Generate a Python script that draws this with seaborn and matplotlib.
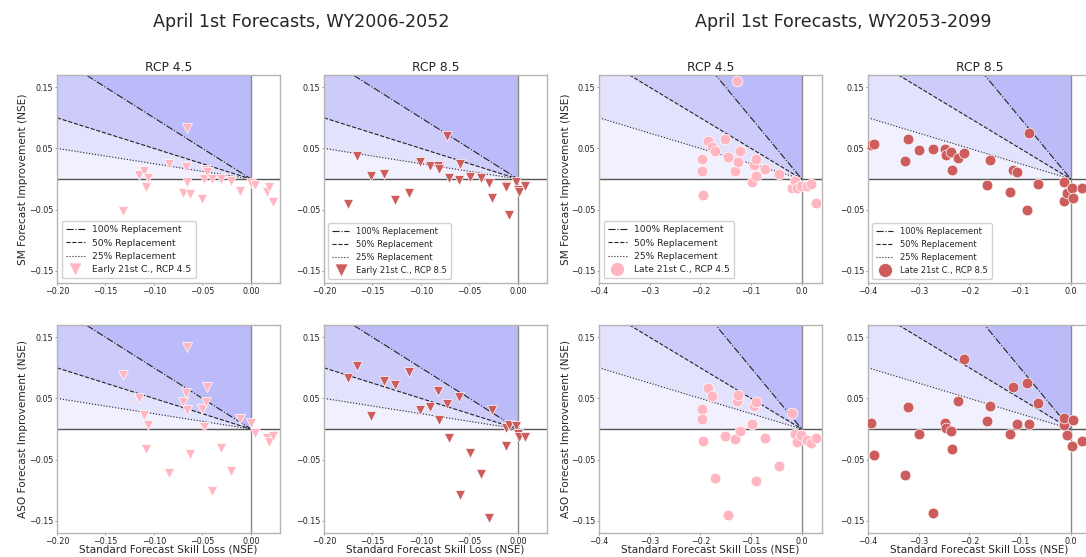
import numpy as np
import matplotlib
matplotlib.use("Agg")
import matplotlib.pyplot as plt
import seaborn as sns

sns.set_style("white")
plt.rcParams["font.family"] = ["DejaVu Sans"]

# ---- data: skill loss of the standard forecast (x) and improvements (y) ----
early45_loss = [-0.132, -0.1158, -0.1107, -0.1086, -0.1062, -0.085, -0.0701, -0.0667,
                -0.066, -0.0656, -0.063, -0.050, -0.0488, -0.0464, -0.0455, -0.0403,
                -0.0305, -0.021, -0.0113, 0.0, 0.004, 0.0165, 0.019, 0.023]
early45_sm = [-0.052, 0.006, 0.0131, -0.0126, 0.0016, 0.0241, -0.0224, 0.0203,
              -0.0055, 0.0832, -0.0246, -0.0334, -0.0005, 0.0148, 0.012, -0.0005,
              -0.0005, -0.0033, -0.0203, -0.006, -0.0104, -0.0208, -0.0137, -0.0383]
early45_aso = [0.0878, 0.0502, 0.0229, -0.0327, 0.0065, -0.0715, 0.0436, 0.0584,
               0.0311, 0.1337, -0.0409, 0.0322, 0.0038, 0.0447, 0.0687, -0.1015,
               -0.0316, -0.0682, 0.0164, 0.0104, -0.006, -0.0153, -0.0218, -0.0109]

early85_loss = [-0.1754, -0.1662, -0.1515, -0.1381, -0.1272, -0.1121, -0.1012, -0.0903,
                -0.0821, -0.0815, -0.0728, -0.0708, -0.0612, -0.0598, -0.0499, -0.0383,
                -0.0301, -0.0263, -0.0123, -0.0126, -0.0089, -0.0024, 0.0, 0.0014, 0.0068]
early85_sm = [-0.0409, 0.0371, 0.0055, 0.0076, -0.0338, -0.0229, 0.0273, 0.0207,
              0.0218, 0.0164, 0.0698, 0.0016, -0.0022, 0.0251, 0.0027, 0.0011,
              -0.0065, -0.0311, -0.012, -0.0135, -0.0584, -0.0049, -0.0175, -0.0205, -0.0109]
early85_aso = [0.0835, 0.1031, 0.0213, 0.0786, 0.0715, 0.0933, 0.0316, 0.036,
               0.0616, 0.0142, 0.0404, -0.0142, 0.0524, -0.1075, -0.0393, -0.0731,
               -0.1457, 0.0306, 0.0022, -0.0284, 0.0071, 0.0049, -0.0087, -0.0131, -0.0136]

late45_loss = [-0.197, -0.196, -0.195, -0.1843, -0.1777, -0.1708, -0.1515, -0.1449,
               -0.1311, -0.1285, -0.1266, -0.1226, -0.099, -0.0938, -0.0908, -0.0895,
               -0.0721, -0.0446, -0.0184, -0.0125, -0.0085, -0.002, 0.0111, 0.019, 0.0275]
late45_sm = [0.0328, 0.0131, -0.0263, 0.0624, 0.052, 0.0465, 0.0657, 0.0367,
             0.0137, 0.1599, 0.0285, 0.0465, -0.0049, 0.023, 0.0323, 0.0049,
             0.0159, 0.0077, -0.0153, -0.0027, -0.0142, -0.012, -0.0115, -0.0088, -0.04]
late45_aso = [0.0322, 0.0169, -0.0191, 0.0671, 0.0535, -0.0797, -0.012, -0.1413,
              -0.0164, 0.0453, 0.0562, -0.0033, 0.0087, 0.0371, 0.0442, -0.0857,
              -0.0147, -0.0606, 0.0262, -0.0076, -0.0218, -0.0104, -0.0175, -0.0224, -0.0142]

late85_loss = [-0.3934, -0.3878, -0.3268, -0.3208, -0.2992, -0.2719, -0.2483, -0.246,
               -0.2371, -0.2351, -0.2233, -0.2115, -0.1649, -0.1596, -0.1195, -0.1133,
               -0.1064, -0.0854, -0.0831, -0.0644, -0.0138, -0.0125, -0.0072, 0.0033,
               0.0046, 0.0217]
late85_sm = [0.0551, 0.0573, 0.0289, 0.0649, 0.0469, 0.0496, 0.0491, 0.0387,
             0.0442, 0.0153, 0.0344, 0.0431, -0.0104, 0.0316, -0.0213, 0.0153,
             0.0109, -0.0507, 0.0753, -0.0087, -0.0355, -0.0055, -0.0229, -0.0147,
             -0.0311, -0.0147]
late85_aso = [0.0093, -0.0431, -0.0747, 0.0355, -0.0087, -0.138, 0.0098, 0.0022,
              -0.0033, -0.0322, 0.0464, 0.114, 0.0125, 0.0376, -0.0076, 0.0682,
              0.0076, 0.0753, 0.0082, 0.0431, 0.006, 0.0185, -0.0098, -0.0278,
              0.0153, -0.0196]

period_titles = ["April 1st Forecasts, WY2006-2052", "April 1st Forecasts, WY2053-2099"]
scenario_titles = ["RCP 4.5", "RCP 8.5", "RCP 4.5", "RCP 8.5"]
series_labels = ["Early 21st C., RCP 4.5", "Early 21st C., RCP 8.5",
                 "Late 21st C., RCP 4.5", "Late 21st C., RCP 8.5"]
replacement_fracs = [1.0, 0.5, 0.25]
replacement_labels = ["100% Replacement", "50% Replacement", "25% Replacement"]
yticks = [0.15, 0.05, -0.05, -0.15]
xticks_early = [-0.20, -0.15, -0.10, -0.05, 0.00]
xticks_late = [-0.4, -0.3, -0.2, -0.1, 0.0]

columns = [
    dict(x=early45_loss, sm=early45_sm, aso=early45_aso, marker="v", color="#ffb6c1",
         s=52, xlim=(-0.20, 0.03), xticks=xticks_early, fmt="{:.2f}", legfs=6.6, ylab_x=-0.13),
    dict(x=early85_loss, sm=early85_sm, aso=early85_aso, marker="v", color="#cd5c5c",
         s=52, xlim=(-0.20, 0.03), xticks=xticks_early, fmt="{:.2f}", legfs=6.0, ylab_x=None),
    dict(x=late45_loss, sm=late45_sm, aso=late45_aso, marker="o", color="#ffb6c1",
         s=60, xlim=(-0.40, 0.04), xticks=xticks_late, fmt="{:.1f}", legfs=6.6, ylab_x=-0.125),
    dict(x=late85_loss, sm=late85_sm, aso=late85_aso, marker="o", color="#cd5c5c",
         s=60, xlim=(-0.40, 0.04), xticks=xticks_late, fmt="{:.1f}", legfs=6.0, ylab_x=None),
]

W, H = 1086, 557
fig = plt.figure(figsize=(W / 100, H / 100), dpi=100)

lefts = [57, 324, 599, 868]
tops = [75, 325]
aw, ah = 223, 208
ylim = (-0.17, 0.17)

zone_colors = ["#f0f0fe", "#e2e2fc", "#cccbfa", "#bbbbf9"]
line_styles = ["-.", "--", ":"]


def draw_panel(ax, col, yvals, row, ci):
    x0 = col["xlim"][0]
    xs = np.linspace(x0, 0, 400)
    top = ylim[1]
    bounds = [np.zeros_like(xs)] + [np.minimum(-f * xs, top) for f in (0.25, 0.5, 1.0)] + [np.full_like(xs, top)]
    for k in range(4):
        ax.fill_between(xs, bounds[k], bounds[k + 1], color=zone_colors[k], lw=0, zorder=0)
    ax.axhline(0, color="#555555", lw=1.0, zorder=1)
    ax.axvline(0, color="#8a8a8a", lw=1.0, zorder=1)
    for f, ls, lab in zip(replacement_fracs, line_styles, replacement_labels):
        ax.plot(xs, -f * xs, ls=ls, color="#222222", lw=0.8, zorder=2, label=lab)
    sns.scatterplot(x=col["x"], y=yvals, marker=col["marker"], color=col["color"],
                    s=col["s"], edgecolor="white", linewidth=0.5, ax=ax, zorder=3,
                    label=series_labels[ci] if row == 0 else None, legend=False)
    ax.set_xlim(*col["xlim"])
    ax.set_ylim(*ylim)
    ax.set_yticks(yticks)
    ax.set_yticklabels(["{:.2f}".format(v).replace("-", "\u2212") for v in yticks])
    ax.set_xticks(col["xticks"])
    ax.set_xticklabels([col["fmt"].format(v).replace("-", "\u2212") for v in col["xticks"]])
    ax.tick_params(labelsize=5.8, length=1.6, width=0.6, color="#888888",
                   labelcolor="#222222", pad=1, left=True, bottom=True)
    for sp in ax.spines.values():
        sp.set_color("#b5b5b5")
        sp.set_linewidth(1.0)
    if row == 0:
        ax.set_title(scenario_titles[ci], fontsize=8.9, pad=3)
        ax.legend(loc="lower left", fontsize=col["legfs"], frameon=True,
                  edgecolor="#cccccc", framealpha=0.9, borderpad=0.5,
                  labelspacing=0.45, handlelength=2.0, markerscale=1.3)
        if col["ylab_x"] is not None:
            ax.set_ylabel("SM Forecast Improvement (NSE)", fontsize=7.6)
            ax.yaxis.set_label_coords(col["ylab_x"], 0.5)
    else:
        ax.set_xlabel("Standard Forecast Skill Loss (NSE)", fontsize=7.5)
        ax.xaxis.label.set_va("center")
        ax.xaxis.set_label_coords(0.5, -0.080)
        if col["ylab_x"] is not None:
            ax.set_ylabel("ASO Forecast Improvement (NSE)", fontsize=7.6)
            ax.yaxis.set_label_coords(col["ylab_x"], 0.5)


for row, key in enumerate(["sm", "aso"]):
    for ci, col in enumerate(columns):
        rect = [lefts[ci] / W, (H - tops[row] - ah) / H, aw / W, ah / H]
        ax = fig.add_axes(rect)
        draw_panel(ax, col, col[key], row, ci)

fig.text(301 / W, 1 - 22 / H, period_titles[0], ha="center", va="center", fontsize=12.6)
fig.text(843 / W, 1 - 22 / H, period_titles[1], ha="center", va="center", fontsize=12.6)

fig.savefig("out.png", dpi=100)
